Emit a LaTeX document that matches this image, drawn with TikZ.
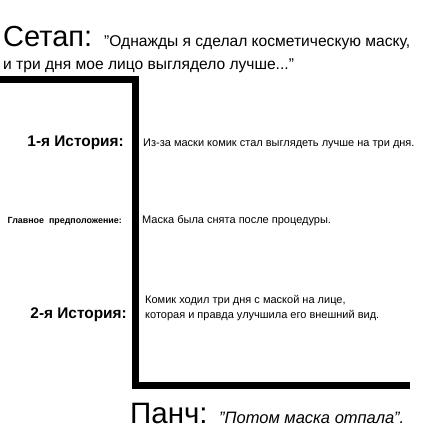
\documentclass[tikz,border=0pt]{standalone}
\usepackage{fontspec}
\setmainfont{Liberation Sans}
\begin{document}
\begin{tikzpicture}[x=1pt,y=-1pt,
  txt/.style={inner sep=0pt,anchor=base west},
  lbl/.style={inner sep=0pt,anchor=base east,font=\fontsize{15.4}{17}\selectfont\bfseries},
  body/.style={inner sep=0pt,anchor=base west,font=\fontsize{11}{14.5}\selectfont}]
\useasboundingbox (0,0) rectangle (424,430);
% frame
\coordinate (a) at (0,80);
\coordinate (b) at (135,80);
\coordinate (c) at (135,385.5);
\coordinate (d) at (410,385.5);
\draw[line width=7pt] (a) -- (b) -- (c) -- (d);
% setup
\node[txt,font=\fontsize{29}{31}\selectfont] (setup) at (3,47) {Сетап:};
\node[txt,font=\fontsize{15.6}{17}\selectfont] (setup1) at (104,47) {"Однажды я сделал косметическую маску,};
\node[txt,font=\fontsize{15.6}{17}\selectfont] (setup2) at (3,70) {и три дня мое лицо выглядело лучше..."};
% stories
\node[lbl] (s1) at (124,147) {1-я История:};
\node[body] (s1t) at (143,147) {Из-за маски комик стал выглядеть лучше на три дня.};
\node[inner sep=0pt,anchor=base east,font=\fontsize{8.9}{11}\selectfont\bfseries] (ass) at (122,223) {Главное\ \ предположение:};
\node[body] (asst) at (142,223) {Маска была снята после процедуры.};
\node[lbl] (s2) at (127,318) {2-я История:};
\node[body,align=left] (s2t) at (145,318) {Комик ходил три дня с маской на лице,\\которая и правда улучшила его внешний вид.};
% punch
\node[txt,font=\fontsize{29.5}{31}\selectfont] (punch) at (130,423) {Панч:};
\node[txt,font=\fontsize{16.5}{18}\selectfont\itshape] (puncht) at (219,423) {"Потом маска отпала".};
\end{tikzpicture}
\end{document}
